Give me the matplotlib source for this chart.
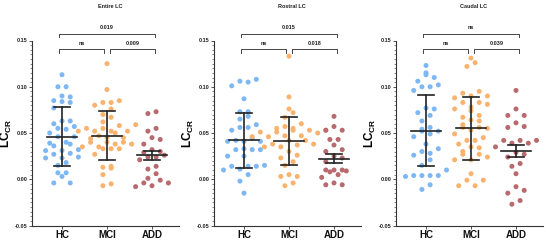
import numpy as np
import matplotlib
matplotlib.use("Agg")
import matplotlib.pyplot as plt

plt.rcParams['font.family'] = ['Liberation Sans', 'DejaVu Sans']
plt.rcParams['mathtext.fontset'] = 'custom'
plt.rcParams['mathtext.rm'] = 'Liberation Sans:bold'
plt.rcParams['mathtext.bf'] = 'Liberation Sans:bold'

groups = ["HC", "MCI", "ADD"]
titles = ["Entire LC", "Rostral LC", "Caudal LC"]
colors = ["#7DB8F5", "#F9B36E", "#B86A6E"]

# Panel 1: Entire LC
entire_hc = [0.113, 0.100, 0.100, 0.090, 0.089, 0.085, 0.084, 0.083, 0.077, 0.063, 0.063,
             0.060, 0.057, 0.055, 0.054, 0.050, 0.046, 0.046, 0.040, 0.039, 0.038, 0.036,
             0.032, 0.031, 0.031, 0.028, 0.027, 0.024, 0.023, 0.023, 0.018, 0.015, 0.007,
             0.007, 0.003, -0.004, -0.004]
entire_mci = [0.125, 0.097, 0.085, 0.083, 0.083, 0.080, 0.076, 0.070, 0.067, 0.062, 0.059,
              0.058, 0.055, 0.055, 0.052, 0.052, 0.052, 0.052, 0.050, 0.047, 0.045, 0.045,
              0.044, 0.040, 0.040, 0.040, 0.038, 0.038, 0.035, 0.035, 0.033, 0.033, 0.033,
              0.027, 0.014, 0.013, 0.012, 0.005, -0.005, -0.007]
entire_add = [0.073, 0.071, 0.055, 0.052, 0.045, 0.043, 0.038, 0.032, 0.030, 0.029, 0.026,
              0.024, 0.024, 0.021, 0.014, 0.011, 0.006, 0.001, -0.001, -0.004, -0.004,
              -0.007, -0.008]
entire_mean = [0.046, 0.047, 0.026]
entire_lo = [0.014, 0.021, 0.021]
entire_hi = [0.078, 0.074, 0.031]

# Panel 2: Rostral LC
rostral_hc = [0.108, 0.106, 0.105, 0.101, 0.087, 0.073, 0.073, 0.068, 0.065, 0.059, 0.056,
              0.056, 0.053, 0.044, 0.042, 0.041, 0.041, 0.041, 0.033, 0.032, 0.032, 0.032,
              0.025, 0.025, 0.015, 0.014, 0.014, 0.014, 0.011, 0.010, 0.005, -0.002, -0.015]
rostral_mci = [0.133, 0.089, 0.076, 0.072, 0.067, 0.060, 0.057, 0.055, 0.055, 0.053, 0.053,
               0.053, 0.051, 0.051, 0.050, 0.047, 0.047, 0.046, 0.046, 0.042, 0.042, 0.038,
               0.038, 0.037, 0.035, 0.035, 0.030, 0.026, 0.023, 0.019, 0.015, 0.005, 0.003,
               0.003, -0.004, -0.007]
rostral_add = [0.068, 0.057, 0.053, 0.053, 0.043, 0.043, 0.037, 0.032, 0.030, 0.025, 0.023,
               0.019, 0.010, 0.010, 0.010, 0.009, 0.008, 0.005, 0.002, -0.004, -0.006, -0.006]
rostral_mean = [0.042, 0.041, 0.022]
rostral_lo = [0.012, 0.015, 0.018]
rostral_hi = [0.072, 0.067, 0.027]

# Panel 3: Caudal LC
caudal_hc = [0.123, 0.115, 0.113, 0.110, 0.106, 0.102, 0.100, 0.100, 0.096, 0.077, 0.076,
             0.072, 0.069, 0.063, 0.056, 0.054, 0.052, 0.052, 0.049, 0.046, 0.038, 0.033,
             0.030, 0.028, 0.026, 0.021, 0.015, 0.010, 0.004, 0.004, 0.004, 0.004, 0.003,
             -0.006, -0.011]
caudal_mci = [0.131, 0.126, 0.122, 0.095, 0.093, 0.090, 0.090, 0.088, 0.083, 0.083, 0.081,
              0.078, 0.076, 0.074, 0.069, 0.067, 0.064, 0.063, 0.059, 0.056, 0.056, 0.055,
              0.053, 0.049, 0.045, 0.042, 0.042, 0.038, 0.035, 0.034, 0.030, 0.027, 0.027,
              0.024, 0.021, 0.021, 0.006, -0.001, -0.001, -0.007, -0.007]
caudal_add = [0.096, 0.076, 0.069, 0.069, 0.061, 0.057, 0.056, 0.042, 0.042, 0.042, 0.039,
              0.039, 0.035, 0.029, 0.027, 0.024, 0.017, 0.014, 0.006, -0.008, -0.012,
              -0.015, -0.023, -0.027]
caudal_mean = [0.052, 0.055, 0.031]
caudal_lo = [0.014, 0.021, 0.024]
caudal_hi = [0.091, 0.089, 0.037]

panels = [
    (entire_hc, entire_mci, entire_add, entire_mean, entire_lo, entire_hi),
    (rostral_hc, rostral_mci, rostral_add, rostral_mean, rostral_lo, rostral_hi),
    (caudal_hc, caudal_mci, caudal_add, caudal_mean, caudal_lo, caudal_hi),
]
# comparisons: (HC vs MCI, MCI vs ADD, HC vs ADD)
pvals = [["ns", "0.009", "0.019"], ["ns", "0.018", "0.015"], ["ns", "0.039", "ns"]]

W, H = 546, 240
fig = plt.figure(figsize=(W / 100, H / 100), dpi=100)

XLIM = (-0.667, 2.6)
YLIM = (-0.05, 0.15)
ax_w_px = 147
ax_bottom_px = 225.5
ax_top_px = 40.5


def rows_swarm(values, xscale, yscale, row_h=7.0, spacing=8.2):
    """GraphPad-like scatter: bin points into rows, spread each row evenly."""
    vals = np.asarray(values, float)
    order = np.argsort(vals)
    offs = np.zeros(len(vals))
    rows = []
    cur = [order[0]]
    for idx in order[1:]:
        if (vals[idx] - vals[cur[0]]) * yscale < row_h:
            cur.append(idx)
        else:
            rows.append(cur)
            cur = [idx]
    rows.append(cur)
    for r in rows:
        n = len(r)
        pos = (np.arange(n) - (n - 1) / 2.0) * spacing
        # interleave: sorted values alternate sides
        seq = sorted(range(n), key=lambda k: (k % 2, k))
        for j, idx in zip(seq, r):
            offs[idx] = pos[j]
    return offs / xscale


for i, (hc, mci, add, mean, lo, hi) in enumerate(panels):
    left_px = 32 + 182 * i
    ax = fig.add_axes([left_px / W, (H - ax_bottom_px) / H, ax_w_px / W,
                       (ax_bottom_px - ax_top_px) / H])
    ax.set_xlim(*XLIM)
    ax.set_ylim(*YLIM)
    xscale = ax_w_px / (XLIM[1] - XLIM[0])
    yscale = (ax_bottom_px - ax_top_px) / (YLIM[1] - YLIM[0])
    for g, vals in enumerate([hc, mci, add]):
        offs = rows_swarm(vals, xscale, yscale)
        ax.scatter(g + offs, vals, s=13, color=colors[g], edgecolors='none', zorder=2)
        # error bars
        ax.plot([g, g], [lo[g], hi[g]], color='#222222', lw=1.2, zorder=3)
        ax.plot([g - 0.17, g + 0.17], [lo[g], lo[g]], color='#222222', lw=1.2, zorder=3)
        ax.plot([g - 0.17, g + 0.17], [hi[g], hi[g]], color='#222222', lw=1.2, zorder=3)
        ax.plot([g - 0.34, g + 0.34], [mean[g], mean[g]], color='#222222', lw=1.2, zorder=3)

    # brackets
    bc = '#444444'
    blw = 0.7

    def bracket(x1, x2, y, leg, label):
        ax.plot([x1, x1, x2, x2], [y - leg, y, y, y - leg], color=bc, lw=blw,
                clip_on=False, zorder=4)
        ax.text((x1 + x2) / 2, y + 0.004, label, ha='center', va='bottom',
                fontsize=4, fontweight='bold', color='#222222', clip_on=False)
    bracket(-0.07, 0.93, 0.1405, 0.004, pvals[i][0])
    bracket(1.07, 2.07, 0.1405, 0.004, pvals[i][1])
    bracket(-0.07, 2.07, 0.1575, 0.004, pvals[i][2])

    fig.text((left_px + 78) / W, 1 - 6 / H, titles[i], ha='center', va='center',
             fontsize=4, fontweight='bold', color='#222222')

    for s in ['top', 'right']:
        ax.spines[s].set_visible(False)
    for s in ['left', 'bottom']:
        ax.spines[s].set_linewidth(0.8)
        ax.spines[s].set_color('#333333')
    ax.set_xticks([0, 1, 2])
    ax.set_xticklabels(groups, fontsize=7, fontweight='bold')
    ax.tick_params(axis='x', length=2, width=0.6, pad=1.5, colors='#333333',
                   labelcolor='#111111')
    ax.set_yticks([-0.05, 0.0, 0.05, 0.10, 0.15])
    ax.set_yticklabels(["-0.05", "0.00", "0.05", "0.10", "0.15"], fontsize=4,
                       fontweight='bold')
    ax.set_yticks(np.arange(-0.05, 0.1501, 0.005), minor=True)
    ax.tick_params(axis='y', which='major', length=2.5, width=0.6, pad=1,
                   colors='#333333', labelcolor='#222222')
    ax.tick_params(axis='y', which='minor', length=1.3, width=0.5, colors='#555555')
    ax.set_ylabel(r'$\mathbf{LC_{CR}}$', fontsize=8.5)
    ax.yaxis.set_label_coords(-0.12, 0.5)

fig.savefig("out.png", dpi=100)
